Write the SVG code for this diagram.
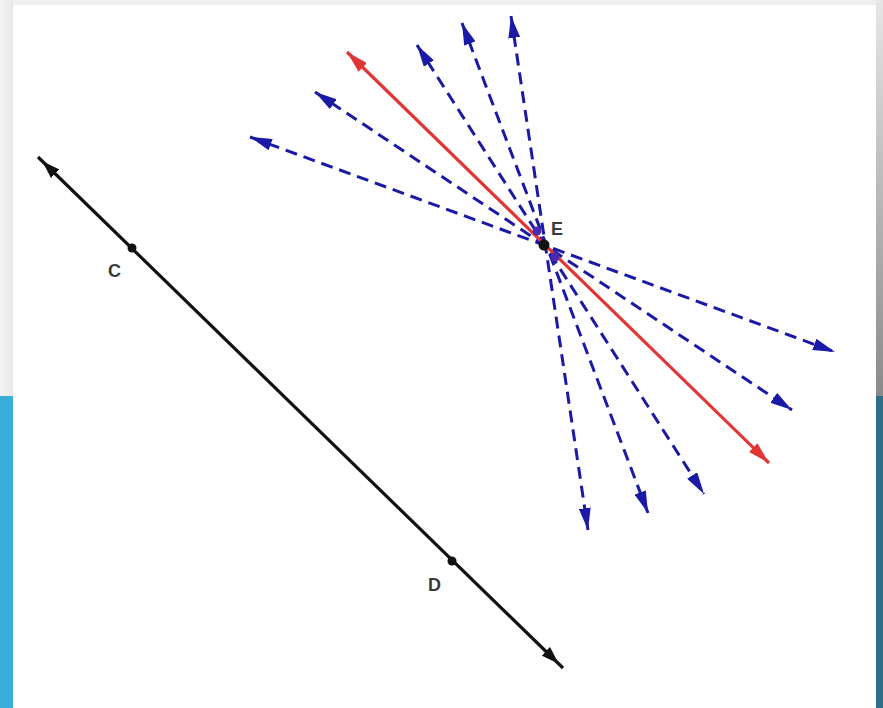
<svg xmlns="http://www.w3.org/2000/svg" width="883" height="708" viewBox="0 0 883 708">
<style>
.blue{stroke:#1a1aa6;stroke-width:3;stroke-dasharray:12 7;fill:none}
.red{stroke:#e23535;stroke-width:3.2;fill:none}
.blk{stroke:#111;stroke-width:3.2;fill:none}
.lbl{font-family:"Liberation Sans",Arial,sans-serif;font-size:18px;font-weight:bold;fill:#3a3a3a}
</style>
<defs>
<linearGradient id="rg" x1="0" y1="0" x2="0" y2="1"><stop offset="0" stop-color="#e6e6e6"/><stop offset="1" stop-color="#8a8a8a"/></linearGradient>
<linearGradient id="lg" x1="0" y1="0" x2="1" y2="0"><stop offset="0" stop-color="#f4f4f4"/><stop offset="1" stop-color="#e8e8e8"/></linearGradient>
<marker id="ab" viewBox="0 0 22 12" refX="22" refY="6" markerWidth="22" markerHeight="12" markerUnits="userSpaceOnUse" orient="auto-start-reverse"><path d="M0,0 L22,6 L0,12 Z" fill="#1a1aa6"/></marker>
<marker id="ar" viewBox="0 0 22 12" refX="22" refY="6" markerWidth="22" markerHeight="12" markerUnits="userSpaceOnUse" orient="auto-start-reverse"><path d="M0,0 L22,6 L0,12 Z" fill="#e23535"/></marker>
<marker id="ak" viewBox="0 0 18 12" refX="24" refY="6" markerWidth="18" markerHeight="12" markerUnits="userSpaceOnUse" orient="auto-start-reverse"><path d="M0,0 L18,6 L0,12 Z" fill="#111"/></marker>
</defs>
<g id="background">
<rect width="883" height="708" fill="#efefef"/>
<rect x="0" y="0" width="13" height="396" fill="url(#lg)"/>
<rect x="876" y="0" width="7" height="396" fill="url(#rg)"/>
<rect x="0" y="396" width="13" height="312" fill="#3aaed8"/>
<rect x="876" y="396" width="7" height="312" fill="#2f6f85"/>
<rect x="13" y="5" width="863" height="703" fill="#fff"/>
</g>
<g id="connectors">
<line class="blk" x1="38" y1="157" x2="563" y2="668" marker-start="url(#ak)" marker-end="url(#ak)"/>
<line class="blue" x1="250" y1="137" x2="835" y2="352" marker-start="url(#ab)" marker-end="url(#ab)"/>
<line class="blue" x1="315" y1="92" x2="792" y2="410" marker-start="url(#ab)" marker-end="url(#ab)"/>
<line class="blue" x1="417" y1="45" x2="704" y2="494" marker-start="url(#ab)" marker-end="url(#ab)"/>
<line class="blue" x1="462" y1="23" x2="648" y2="513" marker-start="url(#ab)" marker-end="url(#ab)"/>
<line class="blue" x1="511" y1="16" x2="588" y2="530" marker-start="url(#ab)" marker-end="url(#ab)"/>
<line class="red" x1="347" y1="52" x2="769" y2="463" marker-start="url(#ar)" marker-end="url(#ar)"/>
</g>
<g id="C"><circle cx="132" cy="248" r="4.5" fill="#111"/><text class="lbl" x="108" y="277">C</text></g>
<g id="D"><circle cx="452" cy="561" r="4.5" fill="#111"/><text class="lbl" x="428" y="591">D</text></g>
<g id="E"><circle cx="537" cy="231" r="4.5" fill="#4a2ab0"/><circle cx="555" cy="257" r="4.5" fill="#4a2ab0"/><circle cx="544" cy="245" r="5.5" fill="#111"/><text class="lbl" x="551" y="235">E</text></g>
</svg>
